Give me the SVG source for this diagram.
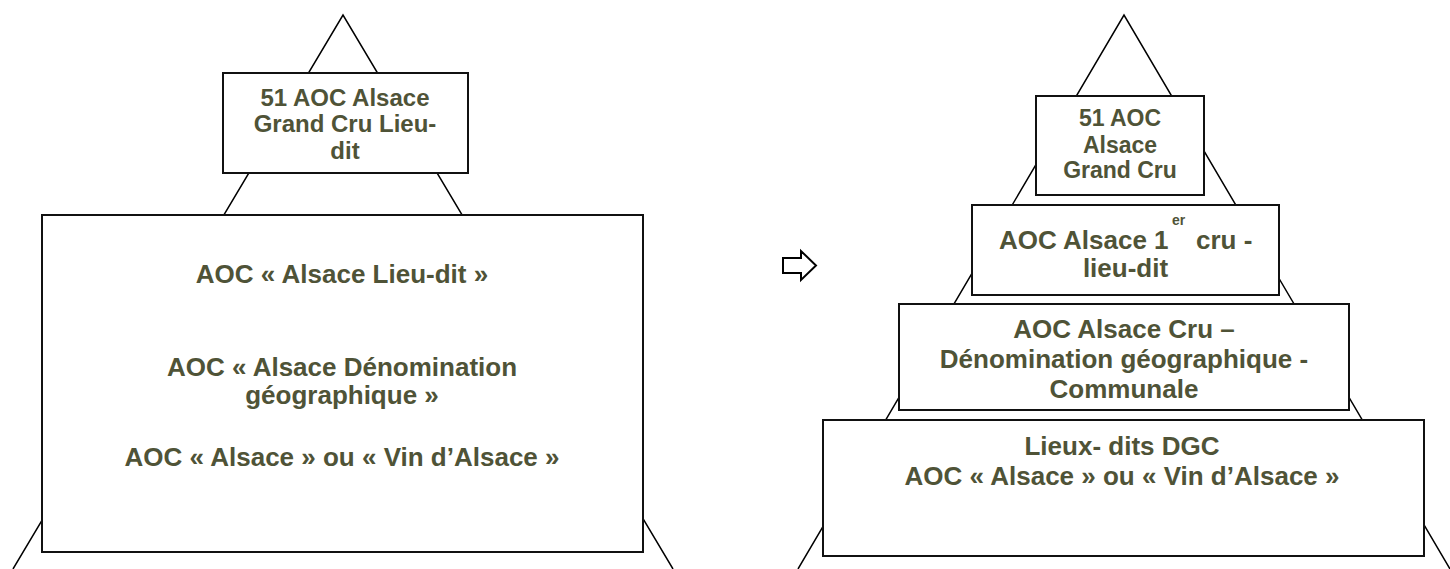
<svg xmlns="http://www.w3.org/2000/svg" width="1450" height="569" viewBox="0 0 1450 569">
  <style>
    .tri { fill: none; stroke: #000; stroke-width: 1.5; }
    .box { fill: #fff; stroke: #111; stroke-width: 2; }
    .t { font-family: "Liberation Sans", Arial, sans-serif; font-weight: bold; fill: #4f5337; text-anchor: middle; }
    .s23 { font-size: 23px; }
    .s24 { font-size: 24px; }
    .s26 { font-size: 26px; }
  </style>
  <rect x="0" y="0" width="1450" height="569" fill="#fff"/>
  <g id="connectors">
    <polyline class="tri" points="13,569 343,15 673,569"/>
    <polyline class="tri" points="798,569 1124,15 1450,569"/>
  </g>
  <g id="left-top">
    <rect class="box" x="223" y="73" width="245" height="100"/>
    <text class="t s24" x="345" y="106">51 AOC Alsace</text>
    <text class="t s24" x="345" y="132">Grand Cru Lieu-</text>
    <text class="t s24" x="345" y="159">dit</text>
  </g>
  <g id="left-base">
    <rect class="box" x="42" y="215" width="601" height="337"/>
    <text class="t s26" x="342" y="283">AOC « Alsace Lieu-dit »</text>
    <text class="t s26" x="342" y="376">AOC « Alsace Dénomination</text>
    <text class="t s26" x="342" y="404">géographique »</text>
    <text class="t s26" x="342" y="466">AOC « Alsace » ou « Vin d’Alsace »</text>
  </g>
  <g id="arrow">
    <path d="M783,258 L801,258 L801,251 L816,265.5 L801,280 L801,273 L783,273 Z" fill="#fff" stroke="#000" stroke-width="2" stroke-linejoin="miter"/>
  </g>
  <g id="right-top">
    <rect class="box" x="1036" y="96" width="168" height="99"/>
    <text class="t s23" x="1120" y="126">51 AOC</text>
    <text class="t s23" x="1120" y="153">Alsace</text>
    <text class="t s23" x="1120" y="178">Grand Cru</text>
  </g>
  <g id="right-premier-cru">
    <rect class="box" x="972" y="205" width="307" height="90"/>
    <text class="t s26" style="text-anchor:start"><tspan x="999" y="249">AOC Alsace 1</tspan><tspan x="1172" y="225" style="font-size:14px">er</tspan><tspan x="1196" y="249">cru -</tspan></text>
    <text class="t s26" x="1125.5" y="277">lieu-dit</text>
  </g>
  <g id="right-cru">
    <rect class="box" x="899" y="304" width="450" height="106"/>
    <text class="t s26" x="1124" y="338">AOC Alsace Cru –</text>
    <text class="t s26" x="1124" y="368">Dénomination géographique -</text>
    <text class="t s26" x="1124" y="398">Communale</text>
  </g>
  <g id="right-base">
    <rect class="box" x="823" y="420" width="601" height="136"/>
    <text class="t s26" x="1122" y="455">Lieux- dits DGC</text>
    <text class="t s26" x="1122" y="485">AOC « Alsace » ou « Vin d’Alsace »</text>
  </g>
</svg>
